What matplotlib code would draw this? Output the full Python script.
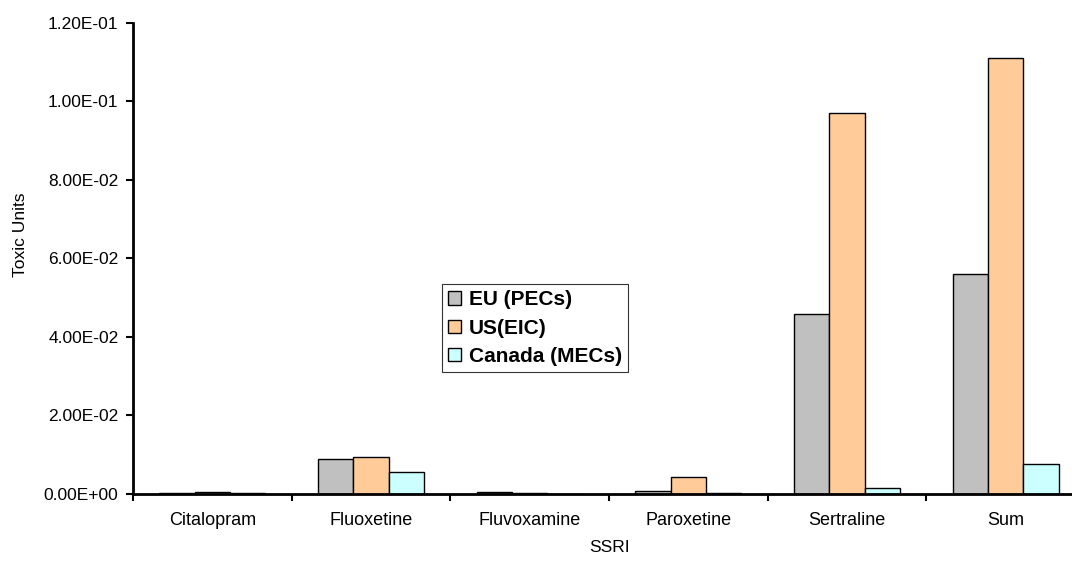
import matplotlib
matplotlib.use("Agg")
import matplotlib.pyplot as plt
import numpy as np
from matplotlib.ticker import FuncFormatter, FixedLocator

plt.rcParams['font.family'] = ['Liberation Sans', 'DejaVu Sans']

categories = ["Citalopram", "Fluoxetine", "Fluvoxamine", "Paroxetine", "Sertraline", "Sum"]
series_names = ["EU (PECs)", "US(EIC)", "Canada (MECs)"]
eu_pecs = [0.0002, 0.0089, 0.0003, 0.0007, 0.0457, 0.0561]
us_eic = [0.0003, 0.0093, 0.0001, 0.0042, 0.0970, 0.1110]
canada_mecs = [0.0002, 0.0056, 0.0000, 0.0001, 0.0014, 0.0075]
colors = ["#C0C0C0", "#FFCC99", "#CCFFFF"]

fig = plt.figure(figsize=(10.72, 5.61), dpi=100)
ax = fig.add_axes([133/1072, 1-493.5/561, (1085-133)/1072, (493.5-23)/561])

x = np.arange(len(categories))
w = 0.223
for i, (vals, name, c) in enumerate(zip([eu_pecs, us_eic, canada_mecs], series_names, colors)):
    ax.bar(x + (i-1)*w, vals, width=w, color=c, edgecolor='black', linewidth=1.0, label=name)

ax.set_xlim(-0.5, len(categories)-0.5)
ax.set_ylim(0, 0.12)
ax.yaxis.set_major_locator(FixedLocator(np.arange(0, 0.1201, 0.02)))
def fmt(v, pos):
    return "%.2E" % v
ax.yaxis.set_major_formatter(FuncFormatter(fmt))
ax.set_xticks(x)
ax.set_xticklabels(categories)
ax.set_xticks(np.arange(-0.5, len(categories)+0.5, 1), minor=True)
ax.tick_params(axis='x', which='major', length=0, pad=13, labelsize=13)
ax.tick_params(axis='x', which='minor', length=5, width=1.5, direction='out')
ax.tick_params(axis='y', length=5, width=1.5, direction='out', labelsize=12.5, pad=5.5)
for s in ['top', 'right']:
    ax.spines[s].set_visible(False)
for s in ['left', 'bottom']:
    ax.spines[s].set_linewidth(2)

ax.set_xlabel("SSRI", fontsize=12.5)
ax.set_ylabel("Toxic Units", fontsize=12.5)
ax.yaxis.set_label_coords(21/1072, 1-235/561, transform=fig.transFigure)
ax.xaxis.set_label_coords((133+1085)/2/1072, 1-547/561, transform=fig.transFigure)
ax.xaxis.label.set_va('center')
ax.yaxis.label.set_va('center')

leg = ax.legend(loc='upper left', bbox_to_anchor=(442/1072, 1-284/561), bbox_transform=fig.transFigure,
                prop={'weight': 'bold', 'size': 15}, frameon=True, fancybox=False,
                edgecolor='black', handlelength=0.6, handleheight=0.6, handletextpad=0.4,
                borderpad=0.3, labelspacing=0.45, borderaxespad=0)
leg.get_frame().set_linewidth(0.8)

fig.savefig("out.png", dpi=100)
